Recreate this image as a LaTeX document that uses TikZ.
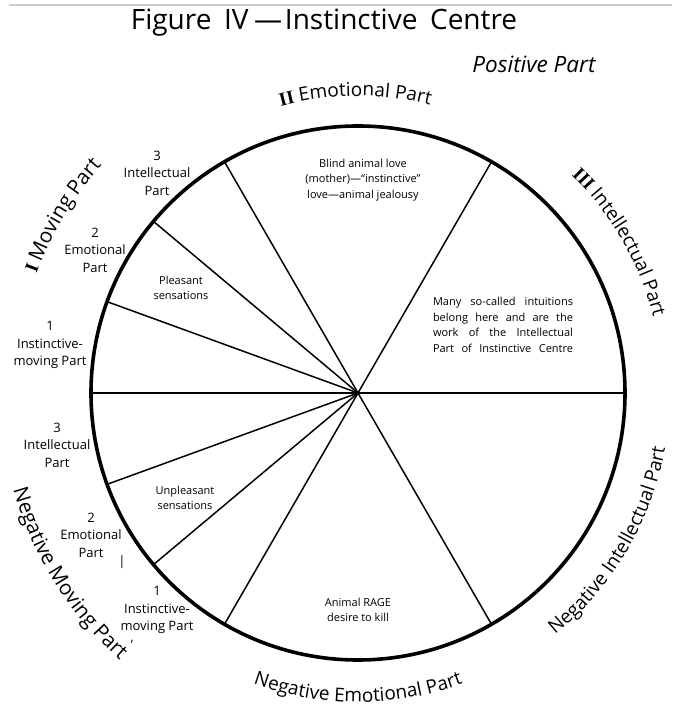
\documentclass[tikz,border=0pt]{standalone}
\usepackage{fontspec}
\setmainfont{Open Sans}
\newfontfamily\numeralfont{Liberation Serif}
\usetikzlibrary{decorations.text}
\newcommand{\arcfont}{\fontsize{19}{19}\selectfont}
\newcommand{\bigarcfont}{\fontsize{20.5}{20.5}\selectfont}
\newcommand{\romfont}{\numeralfont\bfseries\fontsize{19}{19}\selectfont}

\begin{document}
\begin{tikzpicture}[
    x=1pt, y=1pt,
    rim/.style={line width=3.6pt},
    spoke/.style={line width=1.5pt},
    part/.style={align=center, font=\fontsize{13}{17.5}\selectfont, inner sep=0pt},
    note/.style={align=center, font=\fontsize{11}{15.5}\selectfont, inner sep=0pt},
    arclabel/.style={decorate, decoration={text along path, text align=center, text={#1}}}
]
\useasboundingbox (-358,-315) rectangle (314,393);

% Heading
\draw[black!20, line width=1.2pt] (-349,388) -- (314,388);
\node[anchor=base, font=\fontsize{28}{28}\selectfont] (title) at (-34,363)
    {Figure\hspace{0.45em}IV\hspace{0.2em}—\hspace{0.1em}Instinctive\hspace{0.45em}Centre};
\node[anchor=base, font=\itshape\fontsize{22.5}{22.5}\selectfont] (positive) at (176,320) {Positive Part};

% Circle and spokes
\coordinate (centre) at (0,0);
\draw[rim] (centre) circle[radius=267pt];
\foreach \a in {0,60,120,140,160,180,200,220,240,300}
    \draw[spoke] (centre) -- (\a:267pt);

% Curved part names
\path[arclabel={|\romfont|II |\arcfont|Emotional Part}] (125:297pt) arc[start angle=125, end angle=56, radius=297pt];
\path[arclabel={|\romfont|III |\arcfont|Intellectual Part}] (62:305pt) arc[start angle=62, end angle=-2, radius=305pt];
\path[arclabel={|\arcfont|Negative Intellectual Part}] (-66:312pt) arc[start angle=-66, end angle=5, radius=312pt];
\path[arclabel={|\arcfont|Negative Emotional Part}] (230:309pt) arc[start angle=230, end angle=310, radius=309pt];
\path[arclabel={|\bigarcfont|Negative Moving Part}] (176:358pt) arc[start angle=176, end angle=248, radius=358pt];
\path[arclabel={|\romfont|I |\bigarcfont|Moving Part}] (182:343pt) arc[start angle=182, end angle=116, radius=343pt];

% Upper left sectors
\node[part] (int3up) at (-201,220) {3\\Intellectual\\Part};
\node[part] (emo2up) at (-263,143) {2\\Emotional\\Part};
\node[part] (inst1up) at (-308,48) {1\\Instinctive-\\moving Part};
\node[note] (pleasant) at (-177,105) {Pleasant\\sensations};

% Lower left sectors
\node[part] (int3low) at (-301,-52) {3\\Intellectual\\Part};
\node[part] (emo2low) at (-267,-142) {2\\Emotional\\Part};
\node[part] (inst1low) at (-201,-217) {1\\Instinctive-\\moving Part};
\node[note] (unpleasant) at (-173,-105) {Unpleasant\\sensations};
\node[part] (tick) at (-236,-169) {|};
\node[part] (apostrophe) at (-226,-252) {'};

% Large sectors
\node[note] (blindlove) at (5,213) {Blind animal love\\(mother)—``instinctive''\\love—animal jealousy};
\node[note] (intuitions) at (145,68) {\makebox[140pt][s]{Many so-called intuitions}\\
    \makebox[140pt][s]{belong here and are the}\\
    \makebox[140pt][s]{work of the Intellectual}\\
    \makebox[140pt][s]{Part of Instinctive Centre}};
\node[note] (rage) at (0,-217) {Animal RAGE\\desire to kill};

\end{tikzpicture}
\end{document}
